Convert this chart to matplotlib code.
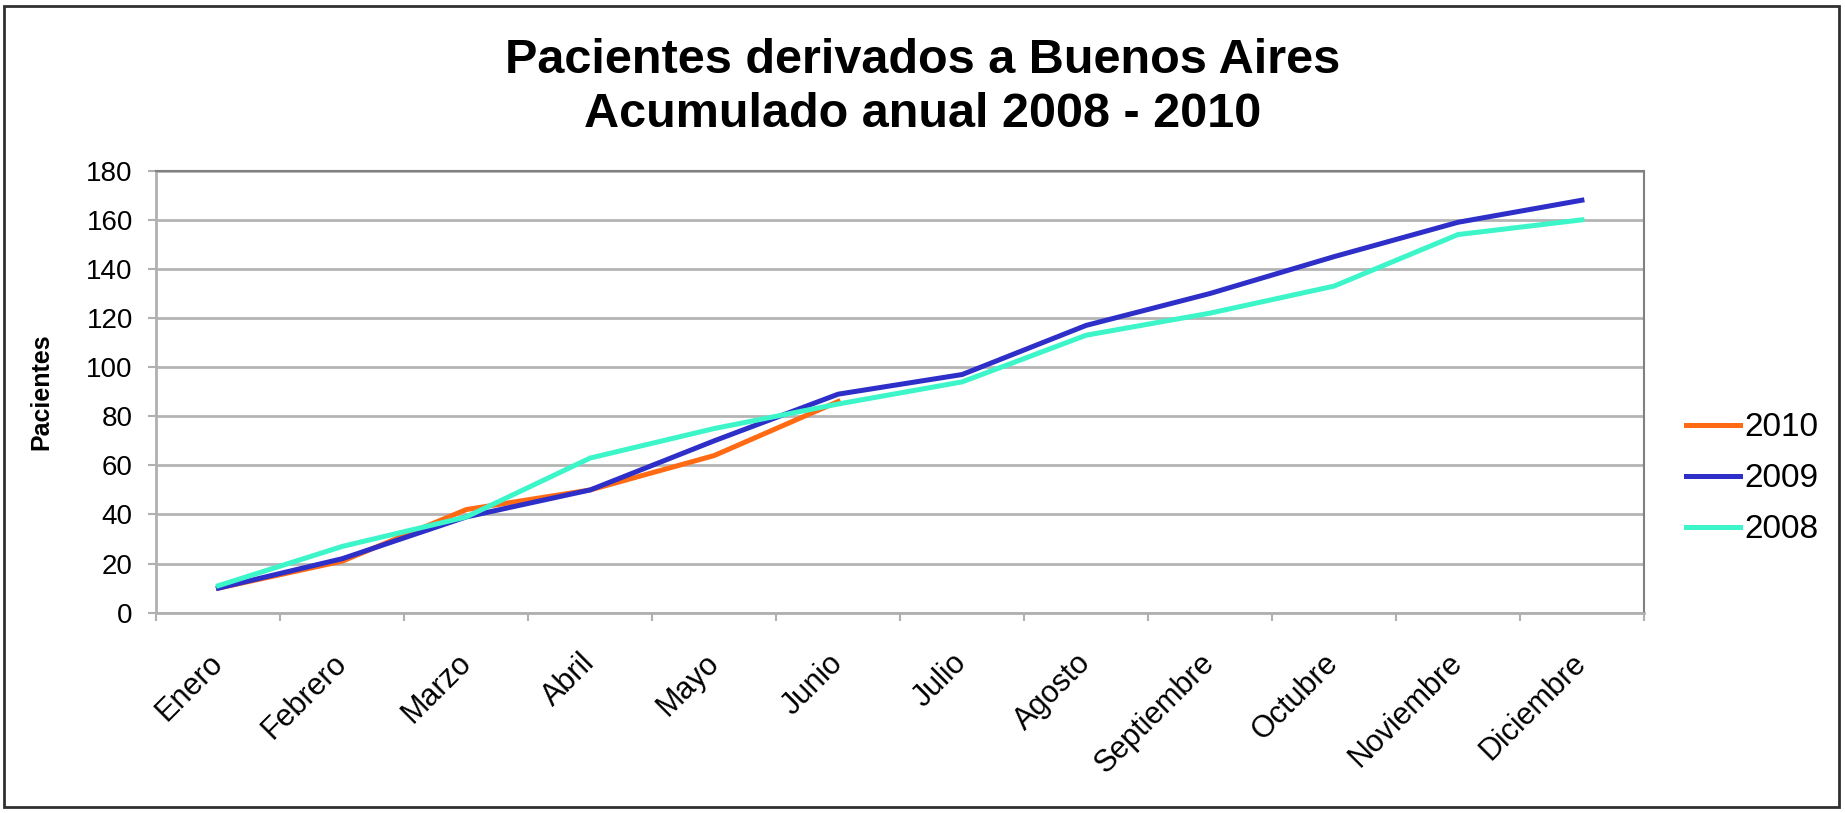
import matplotlib
matplotlib.use("Agg")
import matplotlib.pyplot as plt
from matplotlib.patches import Rectangle
import numpy as np

plt.rcParams['font.family'] = ['Liberation Sans', 'DejaVu Sans']

# datos acumulados por mes
meses = ['Enero', 'Febrero', 'Marzo', 'Abril', 'Mayo', 'Junio', 'Julio',
         'Agosto', 'Septiembre', 'Octubre', 'Noviembre', 'Diciembre']
p2010 = [10, 21, 42, 50, 64, 86]
p2009 = [10, 22, 39, 50, 70, 89, 97, 117, 130, 145, 159, 168]
p2008 = [11, 27, 39, 63, 75, 85, 94, 113, 122, 133, 154, 160]
yticks = [0, 20, 40, 60, 80, 100, 120, 140, 160, 180]

fig = plt.figure(figsize=(18.45, 8.13), dpi=100)
ax = fig.add_axes([0.0848, 0.2464, 0.8062, 0.5436])

ax.plot(np.arange(len(p2010)), p2010, color='#FF6A13', lw=3.6, label='2010', solid_joinstyle='round')
ax.plot(np.arange(len(p2009)), p2009, color='#2E2EC8', lw=3.6, label='2009', solid_joinstyle='round')
ax.plot(np.arange(len(p2008)), p2008, color='#3CF5C8', lw=3.6, label='2008', solid_joinstyle='round')

ax.set_xlim(-0.5, len(meses) - 0.5)
ax.set_ylim(0, 180)
ax.set_yticks(yticks)
ax.grid(axis='y', color='#b4b4b4', lw=2)
ax.set_axisbelow(True)

# ticks entre categorias, etiquetas centradas
ax.set_xticks(np.arange(len(meses) + 1) - 0.5)
ax.set_xticklabels([])
ax.set_xticks(np.arange(len(meses)), minor=True)
ax.set_xticklabels(meses, minor=True, rotation=45, ha='right', va='center',
                   rotation_mode='anchor', fontsize=22)
ax.tick_params(axis='x', which='minor', length=0, pad=33)
ax.tick_params(axis='x', which='major', length=6, width=1.5, color='#b0b0b0', direction='out')
ax.tick_params(axis='y', length=6, width=1.5, color='#b0b0b0', direction='out', labelsize=20, pad=11)

for s in ['top', 'right']:
    ax.spines[s].set_color('#808080')
    ax.spines[s].set_linewidth(1.5)
for s in ['left', 'bottom']:
    ax.spines[s].set_color('#b0b0b0')
    ax.spines[s].set_linewidth(2)

ax.set_ylabel('Pacientes', fontsize=18, fontweight='bold')
ax.yaxis.set_label_coords(-0.0696, 0.5)

fig.legend(loc='center left', bbox_to_anchor=(0.914, 0.411), frameon=False,
           fontsize=24, handlelength=1.6, handletextpad=0.15, labelspacing=0.6,
           borderpad=0, borderaxespad=0)

fig.text(0.5, 1 - 73 / 813, 'Pacientes derivados a Buenos Aires', ha='center',
         va='baseline', fontsize=35, fontweight='bold')
fig.text(0.5, 1 - 127 / 813, 'Acumulado anual 2008 - 2010', ha='center',
         va='baseline', fontsize=35, fontweight='bold')

# marco exterior
fig.patches.append(Rectangle((4 / 1845, 6 / 813), 1835 / 1845, 801 / 813,
                             transform=fig.transFigure, fill=False,
                             edgecolor='#303030', lw=2))

fig.savefig('out.png', dpi=100)
